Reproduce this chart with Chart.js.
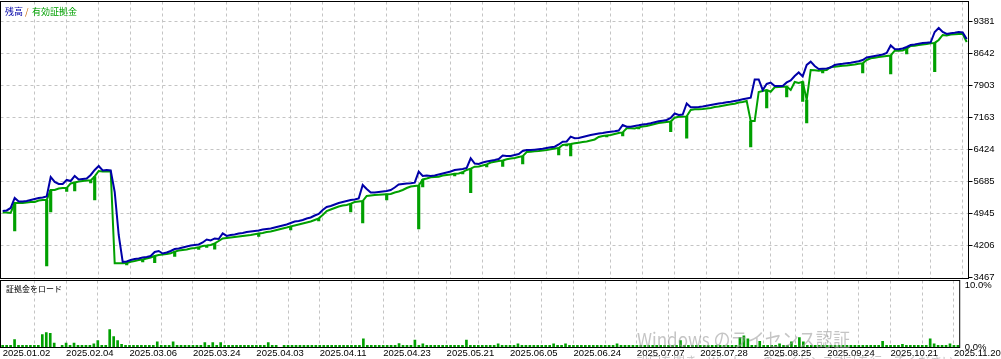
<!DOCTYPE html>
<html>
<head>
<meta charset="utf-8">
<script src="https://cdn.jsdelivr.net/npm/chart.js@4.4.1/dist/chart.umd.min.js"></script>
<style>
  html, body { margin: 0; padding: 0; background: #fff; }
  #wrap { position: relative; width: 1001px; height: 359px; overflow: hidden; }
  canvas { position: absolute; left: 0; }
  #main { top: 0; }
  #load { top: 279px; }
</style>
</head>
<body>
<div id="wrap">
  <canvas id="main" width="1001" height="280"></canvas>
  <canvas id="load" width="1001" height="80"></canvas>
</div>
<script>
// Balance / equity per sample (one sample every few deals)
var balance = [
  5000, 5013, 5071, 5302, 5221, 5221, 5233, 5256, 5279, 5302,
  5314, 5337, 5788, 5672, 5626, 5626, 5719, 5695, 5811, 5730,
  5742, 5753, 5834, 5950, 6042, 5938, 5950, 5938, 5441, 4446,
  3821, 3833, 3867, 3890, 3902, 3925, 3937, 3960, 4052, 4076,
  4018, 4041, 4076, 4122, 4133, 4157, 4180, 4203, 4214, 4226,
  4272, 4342, 4319, 4365, 4353, 4481, 4423, 4446, 4457, 4481,
  4492, 4515, 4527, 4538, 4550, 4573, 4585, 4596, 4619, 4643,
  4666, 4689, 4724, 4758, 4770, 4793, 4828, 4851, 4897, 4932,
  5024, 5094, 5117, 5152, 5186, 5209, 5233, 5256, 5267, 5290,
  5603, 5510, 5429, 5429, 5441, 5452, 5464, 5487, 5545, 5614,
  5626, 5638, 5642, 5656, 5911, 5811, 5823, 5811, 5823, 5846,
  5869, 5892, 5915, 5950, 5961, 5973, 5996, 6221, 6100, 6089,
  6123, 6147, 6165, 6181, 6204, 6285, 6274, 6274, 6297, 6320,
  6390, 6413, 6413, 6420, 6429, 6440, 6459, 6475, 6489, 6540,
  6605, 6609, 6721, 6683, 6690, 6714, 6737, 6760, 6778, 6795,
  6806, 6822, 6836, 6848, 6864, 6991, 6952, 6952, 6968, 6984,
  7003, 7014, 7031, 7054, 7077, 7091, 7107, 7153, 7257, 7223,
  7234, 7489, 7401, 7401, 7408, 7419, 7436, 7454, 7473, 7489,
  7500, 7517, 7530, 7547, 7563, 7586, 7604, 7623, 8044, 8044,
  7801, 7940, 7970, 7894, 7894, 7894, 7975, 8021, 8125, 8206,
  8114, 8380, 8456, 8357, 8287, 8294, 8299, 8322, 8380, 8396,
  8407, 8421, 8433, 8449, 8465, 8495, 8553, 8572, 8588, 8604,
  8623, 8657, 8831, 8750, 8743, 8762, 8796, 8842, 8854, 8873,
  8889, 8896, 8905, 9143, 9236, 9143, 9097, 9113, 9125, 9143,
  9132, 8981
];

// equity at each sample (closing level)
var equity = [
  4967, 4967, 4955, 5186, 5186, 5186, 5198, 5209, 5209, 5244,
  5256, 5256, 5487, 5487, 5522, 5533, 5533, 5638, 5660, 5684,
  5695, 5707, 5707, 5800, 5927, 5915, 5915, 5915, 3791, 3791,
  3791, 3800, 3828, 3844, 3867, 3880, 3902, 3925, 3960, 3983,
  3995, 4006, 4022, 4060, 4087, 4099, 4110, 4133, 4145, 4160,
  4191, 4200, 4214, 4250, 4307, 4365, 4376, 4388, 4400, 4411,
  4423, 4434, 4446, 4462, 4478, 4492, 4515, 4527, 4550, 4573,
  4596, 4619, 4645, 4666, 4689, 4712, 4735, 4758, 4793, 4830,
  4909, 5001, 5036, 5071, 5105, 5128, 5140, 5170, 5209, 5221,
  5230, 5348, 5360, 5371, 5376, 5383, 5390, 5395, 5429, 5452,
  5487, 5533, 5568, 5580, 5590, 5730, 5753, 5781, 5788, 5795,
  5823, 5834, 5846, 5860, 5869, 5900, 5950, 5980, 6026, 6031,
  6054, 6080, 6123, 6142, 6158, 6170, 6198, 6216, 6228, 6251,
  6270, 6366, 6373, 6383, 6390, 6401, 6413, 6429, 6447, 6460,
  6528, 6540, 6550, 6568, 6582, 6598, 6609, 6633, 6656, 6714,
  6737, 6748, 6760, 6783, 6806, 6820, 6915, 6915, 6910, 6935,
  6957, 6968, 6991, 7014, 7038, 7049, 7061, 7070, 7160, 7183,
  7183, 7190, 7338, 7355, 7355, 7362, 7373, 7385, 7408, 7419,
  7438, 7454, 7470, 7484, 7512, 7523, 7547, 7084, 7084, 7755,
  7778, 7800, 7760, 7864, 7871, 7875, 7880, 7801, 7986, 7963,
  7990, 7570, 8264, 8257, 8248, 8255, 8264, 8333, 8340, 8350,
  8361, 8368, 8380, 8391, 8407, 8420, 8495, 8535, 8546, 8565,
  8576, 8588, 8600, 8711, 8711, 8715, 8760, 8819, 8826, 8842,
  8854, 8866, 8882, 8890, 8958, 9074, 9062, 9085, 9090, 9097,
  9097, 8912
];

// equity drawdown spikes: sample number and lowest equity reached there
var dipSample = [3, 11, 12, 16, 18, 22, 23, 31, 35, 38, 43, 49, 51, 53, 64, 72, 79, 87, 90, 96,
  104, 105, 113, 115, 117, 121, 125, 130, 139, 141, 142, 151, 155, 159, 167, 171, 187, 191,
  196, 200, 201, 205, 215, 222, 226, 233];
var dipLow = [4538, 3728, 4978, 5452, 5464, 5649, 5256, 3752, 3821, 3805, 3948, 4110, 4157, 4115,
  4411, 4562, 4770, 4978, 4724, 5256, 4585, 5560, 5811, 5857, 5425, 6019, 6031, 6089, 6297, 6505,
  6274, 6714, 6737, 6899, 6836, 6683, 6482, 7385, 7639, 7535, 7038, 8195, 8195, 8171, 8634, 8225];

// Margin load, percent
var marginLoad = [
  0.35, 0.35, 0.35, 1.3, 0.35, 0.35, 0.35, 0.35, 0.35, 0.35,
  2.1, 2.4, 2.3, 0.7, 0, 0.35, 0.7, 0.35, 0.7, 0.35,
  0.35, 0.35, 0.35, 0.6, 1.1, 0.35, 0.35, 2.9, 1.75, 1.1,
  0.5, 0.35, 0.35, 0.35, 0.35, 0.35, 0.35, 0.35, 0.35, 0.9,
  0.35, 0.35, 0.35, 0.9, 0.35, 0.35, 0.35, 0.35, 0.35, 0.35,
  0.35, 0.8, 0.35, 0.8, 0.35, 0.8, 0.35, 0.35, 0.35, 0.35,
  0.35, 0.35, 0.35, 0.35, 0.35, 0.35, 0.35, 0.8, 0.35, 0.35,
  0, 0.35, 0.35, 0.35, 0.35, 0.35, 0.35, 0.35, 0.35, 0.35,
  0.35, 0.35, 0.35, 0.35, 0.35, 0.35, 0.35, 0.35, 0.35, 0.35,
  0.35, 1.4, 0.35, 0.35, 0.35, 0.35, 0.35, 0.35, 0.35, 0.35,
  0.65, 0.35, 0.35, 0.35, 1.2, 0.35, 0.6, 0.35, 0.35, 0.35,
  0.35, 0.35, 0.35, 0.35, 0.35, 0.35, 0.35, 1.2, 0.35, 0.35,
  0.35, 0.35, 0.35, 0.35, 0.35, 0.6, 0.35, 0.35, 0.35, 0.35,
  0.6, 0.35, 0.35, 0.35, 0.35, 0.35, 0.35, 0.35, 0.35, 0.6,
  0.35, 0.35, 0.6, 0.35, 0.35, 0.35, 0.35, 0.35, 0.35, 0.35,
  0.35, 0.35, 0.35, 0.35, 0.35, 0.6, 0.35, 0.35, 0.35, 0.35,
  0.35, 0.35, 0.35, 0.35, 0.35, 0.35, 0.35, 0.35, 0.35, 0.35,
  0.35, 1.1, 0.35, 0.35, 0.35, 0.35, 0.35, 0.35, 0.35, 0.35,
  0.35, 0.35, 0.35, 0.35, 0.35, 0.35, 1.6, 1.9, 1.4, 0.35,
  0.35, 1.0, 0.35, 0.35, 0.35, 0.35, 0.6, 0.35, 0.35, 0.9,
  0.35, 1.6, 0.9, 0.35, 0.35, 0.35, 0.35, 0.35, 0.35, 0.35,
  0.35, 0.35, 0.35, 0.35, 0.35, 0.35, 0.35, 0.35, 0.35, 0.35,
  0.35, 0.35, 1.0, 0.35, 0.35, 0.35, 0.35, 0.5, 0.35, 0.35,
  0.35, 0.35, 0.35, 0.35, 1.4, 0.6, 0.35, 0.35, 0.35, 0.6,
  0.35, 0.35
];

var yTicks = [3467, 4206, 4945, 5685, 6424, 7163, 7903, 8642, 9381];
var loadTicks = [0, 10];
var dateLabels = [
  '2025.01.02', '2025.02.04', '2025.03.06', '2025.03.24', '2025.04.03', '2025.04.11',
  '2025.04.23', '2025.05.21', '2025.06.05', '2025.06.24', '2025.07.07', '2025.07.28',
  '2025.08.25', '2025.09.24', '2025.10.21', '2025.11.20'
];
var mainTitle = ['残高', '/', '有効証拠金'];
var loadTitle = '証拠金をロード';
var watermark = ['Windows のライセンス認証', '設定を開き、Windows のライセンス認証を行ってください。'];

var BLUE = '#0000a8';
var GREEN = '#00a000';
var GRID = '#c4c4c4';
var AXIS_FONT = { family: 'Liberation Sans', size: 9.5 };
var CJK = '"Noto Sans CJK JP"';
var LABEL_STEP = 16;   // samples between date labels
var X_MIN = -0.55, X_MAX = 241.45;

var sampleIdx = balance.map(function (v, i) { return i; });

// floating bars from the dip low up to the equity level
var dipBars = equity.map(function () { return null; });
dipSample.forEach(function (s, k) { dipBars[s] = [dipLow[k], equity[s]]; });

// one grid line per half label step, a date label on every other one
function setDateTicks(scale) {
  var t = [];
  dateLabels.forEach(function (d, k) {
    t.push({ value: k * LABEL_STEP });
    if (k * LABEL_STEP + LABEL_STEP / 2 <= X_MAX) t.push({ value: k * LABEL_STEP + LABEL_STEP / 2 });
  });
  scale.ticks = t;
}

function dateLabel(value) {
  return value % LABEL_STEP === 0 ? dateLabels[value / LABEL_STEP] : '';
}

function fitRight(scale) {
  scale.width = 32.5;
  scale.paddingTop = 0;
  scale.paddingBottom = 0;
}

function skipFirst(ctx) {
  return ctx.index === 0 ? 'rgba(0,0,0,0)' : GRID;
}

var framePlugin = {
  id: 'frame',
  afterDraw: function (chart) {
    var a = chart.chartArea, ctx = chart.ctx;
    ctx.save();
    ctx.strokeStyle = '#000';
    ctx.lineWidth = 1;
    ctx.strokeRect(a.left, a.top, a.right - a.left, a.bottom - a.top);
    ctx.restore();
  }
};

var mainTitlePlugin = {
  id: 'mainTitle',
  afterDraw: function (chart) {
    var ctx = chart.ctx;
    ctx.save();
    ctx.font = '9px ' + CJK;
    ctx.textBaseline = 'middle';
    ctx.fillStyle = BLUE;
    ctx.fillText(mainTitle[0], 5, 11.5);
    ctx.fillStyle = '#c86400';
    ctx.fillText(mainTitle[1], 25, 11.5);
    ctx.fillStyle = GREEN;
    ctx.fillText(mainTitle[2], 32, 11.5);
    ctx.restore();
  }
};

var loadTitlePlugin = {
  id: 'loadTitle',
  afterDraw: function (chart) {
    var ctx = chart.ctx;
    ctx.save();
    ctx.font = '8px ' + CJK;
    ctx.textBaseline = 'middle';
    ctx.fillStyle = '#000';
    ctx.fillText(loadTitle, 6, 9.5);
    // activation watermark that sits over the lower panel
    ctx.fillStyle = 'rgba(150,150,150,0.55)';
    ctx.font = '19px ' + CJK;
    ctx.textBaseline = 'alphabetic';
    ctx.fillText(watermark[0], 637, 67.5, 213);
    ctx.font = '12px ' + CJK;
    ctx.fillText(watermark[1], 637, 87);
    ctx.restore();
  }
};

var common = {
  responsive: false,
  animation: false,
  devicePixelRatio: 1,
  events: [],
  plugins: { legend: { display: false }, tooltip: { enabled: false } }
};

new Chart(document.getElementById('main'), {
  type: 'line',
  data: {
    labels: sampleIdx,
    datasets: [
      { label: mainTitle[0], data: balance, borderColor: BLUE, borderWidth: 2,
        pointRadius: 0, tension: 0, fill: false },
      { label: mainTitle[2], data: equity, borderColor: GREEN, borderWidth: 2,
        pointRadius: 0, tension: 0, fill: false },
      { type: 'bar', label: 'dips', data: dipBars, backgroundColor: GREEN,
        borderWidth: 0, barThickness: 2.5 }
    ]
  },
  options: Object.assign({}, common, {
    layout: { padding: { top: 1.5, bottom: 1.5, left: 0.5, right: 0 }, autoPadding: false },
    scales: {
      x: {
        type: 'linear', min: X_MIN, max: X_MAX, offset: false,
        afterBuildTicks: setDateTicks,
        afterFit: function (s) { s.height = 0; },
        ticks: { display: false },
        grid: { color: skipFirst, drawTicks: false, offset: false },
        border: { display: false, dash: [3, 3] }
      },
      y: {
        position: 'right', min: 3439, max: 9848,
        afterBuildTicks: function (s) { s.ticks = yTicks.map(function (v) { return { value: v }; }); },
        afterFit: fitRight,
        ticks: { color: '#000', font: AXIS_FONT, padding: 1, callback: function (v) { return String(v); } },
        grid: { color: skipFirst, tickColor: '#000', tickLength: 4 },
        border: { display: false, dash: [3, 3] }
      }
    }
  }),
  plugins: [framePlugin, mainTitlePlugin]
});

new Chart(document.getElementById('load'), {
  type: 'bar',
  data: {
    labels: sampleIdx,
    datasets: [
      { label: loadTitle, data: marginLoad, backgroundColor: GREEN, borderWidth: 0, barThickness: 2 }
    ]
  },
  options: Object.assign({}, common, {
    layout: { padding: { top: 1.5, bottom: 0, left: 0.5, right: 0 }, autoPadding: false },
    scales: {
      x: {
        type: 'linear', min: X_MIN, max: X_MAX, offset: false,
        afterBuildTicks: setDateTicks,
        afterFit: function (s) { s.height = 11.5; },
        ticks: { color: '#000', font: AXIS_FONT, align: 'start', padding: 0,
                 autoSkip: false, maxRotation: 0, minRotation: 0, callback: dateLabel },
        grid: { color: skipFirst, drawTicks: false, offset: false },
        border: { display: false, dash: [3, 3] }
      },
      y: {
        position: 'right', min: 0, max: 10.84,
        afterBuildTicks: function (s) { s.ticks = loadTicks.map(function (v) { return { value: v }; }); },
        afterFit: fitRight,
        ticks: { color: '#000', font: AXIS_FONT, padding: 5, callback: function (v) { return v.toFixed(1) + '%'; } },
        grid: { drawOnChartArea: false, drawTicks: false },
        border: { display: false }
      }
    }
  }),
  plugins: [framePlugin, loadTitlePlugin]
});
</script>
</body>
</html>
